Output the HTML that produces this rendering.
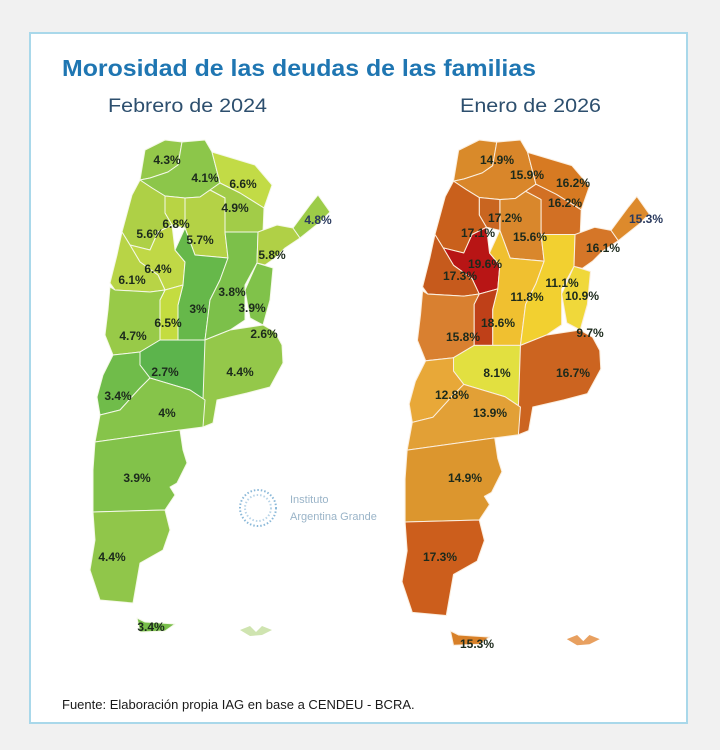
<!DOCTYPE html>
<html><head><meta charset="utf-8"><style>
html,body{margin:0;padding:0;background:#f1f1f1;}
body{width:720px;height:750px;position:relative;overflow:hidden;font-family:"Liberation Sans",sans-serif;}
.card{position:absolute;left:29px;top:32px;width:659px;height:692px;background:#fff;border:2px solid #a9d8ea;box-sizing:border-box;}
svg{position:absolute;left:0;top:0;}
</style></head><body>
<div class="card"></div>
<svg width="720" height="750" viewBox="0 0 720 750">
<text x="62" y="76" font-size="23" font-weight="bold" fill="#1f76b2" textLength="474" lengthAdjust="spacingAndGlyphs">Morosidad de las deudas de las familias</text>
<text x="108" y="112" font-size="19" fill="#2d4f6e" textLength="159" lengthAdjust="spacingAndGlyphs">Febrero de 2024</text>
<text x="460" y="112" font-size="19" fill="#2d4f6e" textLength="141" lengthAdjust="spacingAndGlyphs">Enero de 2026</text>

<g stroke="#f4f8e8" stroke-width="1" stroke-linejoin="round">
<polygon fill="#94c84a" points="145,150 165,140 182,142 178,165 168,172 150,178 140,180"/>
<polygon fill="#8cc64a" points="182,142 205,140 212,152 220,183 210,190 200,197 185,198 165,196 152,188 140,180 150,178 168,172 178,165"/>
<polygon fill="#c2db46" points="212,152 255,165 272,185 264,208 240,193 220,183"/>
<polygon fill="#a2cc48" points="220,183 240,193 264,208 263,232 225,232 225,198 210,190"/>
<polygon fill="#b4d246" points="200,197 210,190 225,198 225,232 228,258 195,255 185,228 185,198"/>
<polygon fill="#b8d444" points="165,196 185,198 185,228 172,225 165,213"/>
<polygon fill="#aed046" points="140,180 152,188 165,196 165,213 172,225 158,232 150,250 130,245 122,232 132,195"/>
<polygon fill="#c0d846" points="130,245 150,250 158,232 172,225 175,250 185,262 183,285 165,290 158,275 140,262"/>
<polygon fill="#b8d446" points="117,255 122,232 130,245 140,262 158,275 165,290 150,292 115,290 110,283"/>
<polygon fill="#66b84a" points="175,250 185,228 195,255 228,258 220,280 210,300 205,340 178,340 178,305 183,285 185,262"/>
<polygon fill="#7cc04a" points="225,232 258,232 257,263 245,285 245,320 230,330 205,340 210,300 220,280 228,258"/>
<polygon fill="#80c24a" points="257,263 273,268 270,300 263,325 250,318 245,290"/>
<polygon fill="#b0d046" points="258,232 277,225 293,228 300,238 285,248 275,258 265,265 257,263"/>
<polygon fill="#9ccc48" points="293,228 310,205 318,195 330,212 320,222 300,238"/>
<polygon fill="#c4dc40" points="165,290 183,285 178,305 178,340 160,340 160,300"/>
<polygon fill="#98ca48" points="110,287 115,290 150,292 165,290 160,300 160,340 140,352 113,355 105,335 108,310"/>
<polygon fill="#5cb44c" points="140,352 160,340 205,340 205,400 190,390 150,378 140,365"/>
<polygon fill="#94c84a" points="205,340 230,330 263,325 275,332 282,345 283,363 270,387 247,393 217,400 213,423 203,427 203,400"/>
<polygon fill="#70bc4a" points="113,355 140,352 140,365 150,378 140,388 120,410 100,415 97,397 103,375"/>
<polygon fill="#86c44a" points="100,415 120,410 140,388 150,378 190,390 205,400 203,427 180,430 95,442"/>
<polygon fill="#82c24a" points="95,442 180,430 183,450 187,463 177,483 170,487 175,495 165,510 93,512 93,470"/>
<polygon fill="#90c64a" points="93,512 165,510 170,530 163,550 140,563 133,603 100,600 90,570 95,540"/>
<polygon fill="#78be4a" points="137,618 145,622 175,624 165,631 140,632"/>
<polygon fill="#cfe4b0" stroke="none" points="240,630 250,626 256,632 262,626 272,630 262,635 250,636"/>
</g>

<g transform="translate(402,140) scale(1.03,1.027) translate(-90,-140)" stroke="#fbeede" stroke-width="1" stroke-linejoin="round">
<polygon fill="#d98a2a" points="145,150 165,140 182,142 178,165 168,172 150,178 140,180"/>
<polygon fill="#d9862a" points="182,142 205,140 212,152 220,183 210,190 200,197 185,198 165,196 152,188 140,180 150,178 168,172 178,165"/>
<polygon fill="#d77a22" points="212,152 255,165 272,185 264,208 240,193 220,183"/>
<polygon fill="#d27024" points="220,183 240,193 264,208 263,232 225,232 225,198 210,190"/>
<polygon fill="#d9872c" points="200,197 210,190 225,198 225,232 228,258 195,255 185,228 185,198"/>
<polygon fill="#c96520" points="165,196 185,198 185,228 172,225 165,213"/>
<polygon fill="#c9601c" points="140,180 152,188 165,196 165,213 172,225 158,232 150,250 130,245 122,232 132,195"/>
<polygon fill="#b81515" points="130,245 150,250 158,232 172,225 175,250 185,262 183,285 165,290 158,275 140,262"/>
<polygon fill="#c65a1c" points="117,255 122,232 130,245 140,262 158,275 165,290 150,292 115,290 110,283"/>
<polygon fill="#f0c030" points="175,250 185,228 195,255 228,258 220,280 210,300 205,340 178,340 178,305 183,285 185,262"/>
<polygon fill="#f2d030" points="225,232 258,232 257,263 245,285 245,320 230,330 205,340 210,300 220,280 228,258"/>
<polygon fill="#f0d83a" points="257,263 273,268 270,300 263,325 250,318 245,290"/>
<polygon fill="#d57628" points="258,232 277,225 293,228 300,238 285,248 275,258 265,265 257,263"/>
<polygon fill="#dd8a2c" points="293,228 310,205 318,195 330,212 320,222 300,238"/>
<polygon fill="#bf4018" points="165,290 183,285 178,305 178,340 160,340 160,300"/>
<polygon fill="#d98030" points="110,287 115,290 150,292 165,290 160,300 160,340 140,352 113,355 105,335 108,310"/>
<polygon fill="#e2e040" points="140,352 160,340 205,340 205,400 190,390 150,378 140,365"/>
<polygon fill="#cc6420" points="205,340 230,330 263,325 275,332 282,345 283,363 270,387 247,393 217,400 213,423 203,427 203,400"/>
<polygon fill="#e8a838" points="113,355 140,352 140,365 150,378 140,388 120,410 100,415 97,397 103,375"/>
<polygon fill="#e2a036" points="100,415 120,410 140,388 150,378 190,390 205,400 203,427 180,430 95,442"/>
<polygon fill="#dc962e" points="95,442 180,430 183,450 187,463 177,483 170,487 175,495 165,510 93,512 93,470"/>
<polygon fill="#cc5e1c" points="93,512 165,510 170,530 163,550 140,563 133,603 100,600 90,570 95,540"/>
<polygon fill="#d88028" points="137,618 145,622 175,624 165,631 140,632"/>
<polygon fill="#e8a060" stroke="none" points="250,626 260,622 266,628 272,622 282,626 272,631 260,632"/>
</g>

<g font-size="12" font-weight="bold" fill="#1c2a1c" text-anchor="middle">
<text x="167" y="164">4.3%</text><text x="205" y="182">4.1%</text><text x="243" y="188">6.6%</text>
<text x="235" y="212">4.9%</text><text x="318" y="224" fill="#2a3a5e">4.8%</text>
<text x="176" y="228">6.8%</text><text x="150" y="238">5.6%</text><text x="200" y="244">5.7%</text>
<text x="272" y="259">5.8%</text><text x="158" y="273">6.4%</text><text x="132" y="284">6.1%</text>
<text x="232" y="296">3.8%</text><text x="198" y="313">3%</text><text x="252" y="312">3.9%</text>
<text x="168" y="327">6.5%</text><text x="133" y="340">4.7%</text><text x="264" y="338">2.6%</text>
<text x="165" y="376">2.7%</text><text x="240" y="376">4.4%</text><text x="118" y="400">3.4%</text>
<text x="167" y="417">4%</text><text x="137" y="482">3.9%</text><text x="112" y="561">4.4%</text>
<text x="151" y="631">3.4%</text>

<text x="497" y="164">14.9%</text><text x="527" y="179">15.9%</text><text x="573" y="187">16.2%</text>
<text x="565" y="207">16.2%</text><text x="646" y="223" fill="#2a3a5e">15.3%</text>
<text x="505" y="222">17.2%</text><text x="478" y="237">17.1%</text><text x="530" y="241">15.6%</text>
<text x="603" y="252">16.1%</text><text x="485" y="268">19.6%</text><text x="460" y="280">17.3%</text>
<text x="562" y="287">11.1%</text><text x="582" y="300">10.9%</text><text x="527" y="301">11.8%</text>
<text x="498" y="327">18.6%</text><text x="463" y="341">15.8%</text><text x="590" y="337">9.7%</text>
<text x="497" y="377">8.1%</text><text x="573" y="377">16.7%</text><text x="452" y="399">12.8%</text>
<text x="490" y="417">13.9%</text><text x="465" y="482">14.9%</text><text x="440" y="561">17.3%</text>
<text x="477" y="648">15.3%</text>
</g>

<g fill="none" stroke="#8ab8d8" stroke-width="2" stroke-dasharray="1.5 2">
<circle cx="258" cy="508" r="18"/><circle cx="258" cy="508" r="13" stroke="#b8d4e8"/>
</g>
<text x="290" y="503" font-size="11" fill="#9ab4c8">Instituto</text>
<text x="290" y="520" font-size="11" fill="#9ab4c8">Argentina Grande</text>
<text x="62" y="709" font-size="13" fill="#1a1a1a">Fuente: Elaboración propia IAG en base a CENDEU - BCRA.</text>
</svg>
</body></html>
